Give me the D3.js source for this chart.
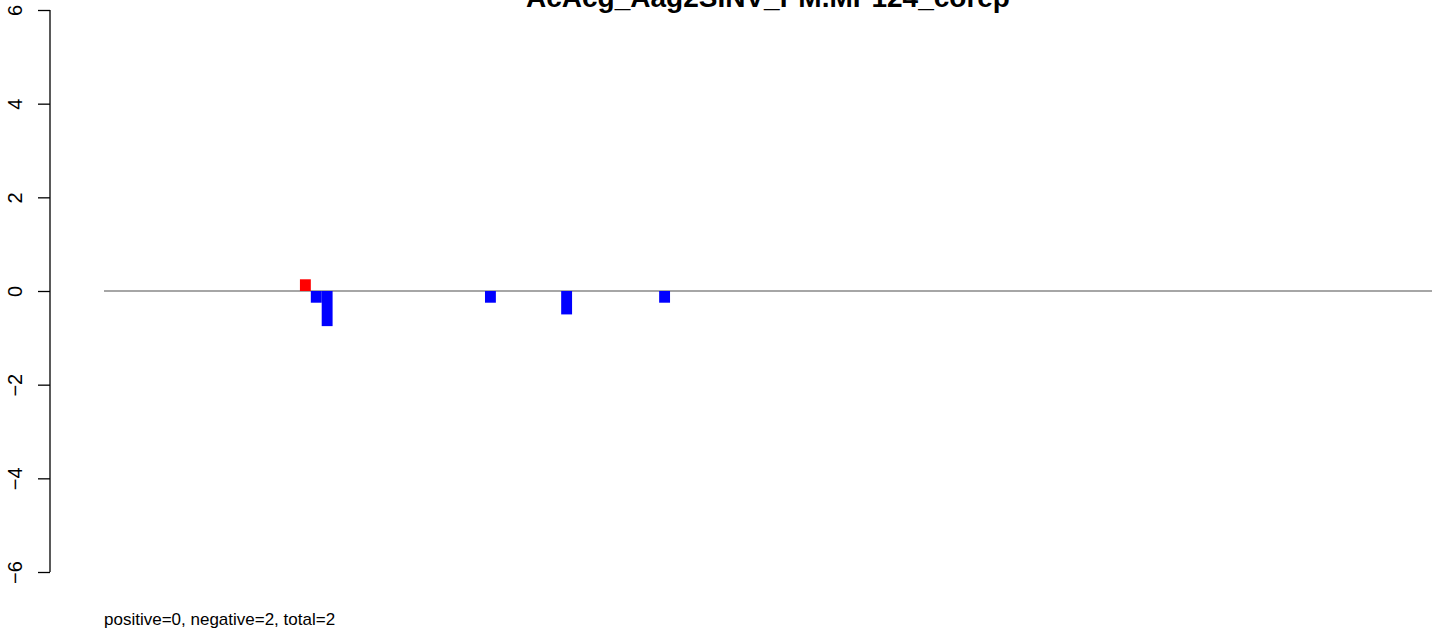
<!DOCTYPE html>
<html><head><meta charset="utf-8">
<script src="https://cdn.jsdelivr.net/npm/d3@7"></script>
<style>body{margin:0;background:#fff}svg{display:block}text{font-family:"Liberation Sans",Arial,sans-serif}</style>
</head><body>
<script>
const title = "AcAcg_Aag2SINV_PM.MP124_corep";
const footer = "positive=0, negative=2, total=2";
const nBins = 122;
const positions = [18, 19, 20, 35, 42, 51];
const values = [0.25, -0.25, -0.75, -0.25, -0.5, -0.25];
const yTicks = [-6, -4, -2, 0, 2, 4, 6];

const W = 1444, H = 638;
const svg = d3.select("body").append("svg").attr("width", W).attr("height", H);
const x = d3.scaleLinear().domain([0, nBins]).range([104, 1432]);
const y = d3.scaleLinear().domain([-6, 6]).range([572, 10]);

// zero line
svg.append("line").attr("x1", x(0)).attr("x2", x(nBins)).attr("y1", y(0)).attr("y2", y(0))
  .attr("stroke", "#888").attr("stroke-width", 1.5);

// bars
svg.selectAll("rect.bar").data(positions.map((p, i) => ({p, v: values[i]}))).enter().append("rect")
  .attr("x", d => x(d.p)).attr("width", d => x(d.p + 1) - x(d.p))
  .attr("y", d => y(Math.max(0, d.v))).attr("height", d => Math.abs(y(d.v) - y(0)))
  .attr("fill", d => d.v > 0 ? "#ff0000" : "#0000ff");

// y axis
const ax = svg.append("g").attr("transform", "translate(50,0)")
  .call(d3.axisLeft(y).tickValues(yTicks).tickSize(12).tickPadding(0).tickFormat(d => d < 0 ? "\u2212" + Math.abs(d) : d));
ax.select(".domain").attr("d", `M0,${y(-6)}V${y(6)}`).attr("stroke", "#000").attr("stroke-width", 1.3);
ax.selectAll(".tick line").attr("stroke", "#000").attr("stroke-width", 1.3);
ax.selectAll(".tick text").attr("font-size", 20).attr("fill", "#000")
  .attr("text-anchor", "middle")
  .attr("transform", "translate(-35,0) rotate(-90)").attr("x", 0).attr("y", 0).attr("dy", "0.35em");

svg.append("text").attr("x", (x(0) + x(nBins)) / 2).attr("y", 7).attr("text-anchor", "middle")
  .attr("font-weight", "bold").attr("font-size", 28).text(title);
svg.append("text").attr("x", 104).attr("y", 625).attr("font-size", 17).text(footer);
</script>
</body></html>
